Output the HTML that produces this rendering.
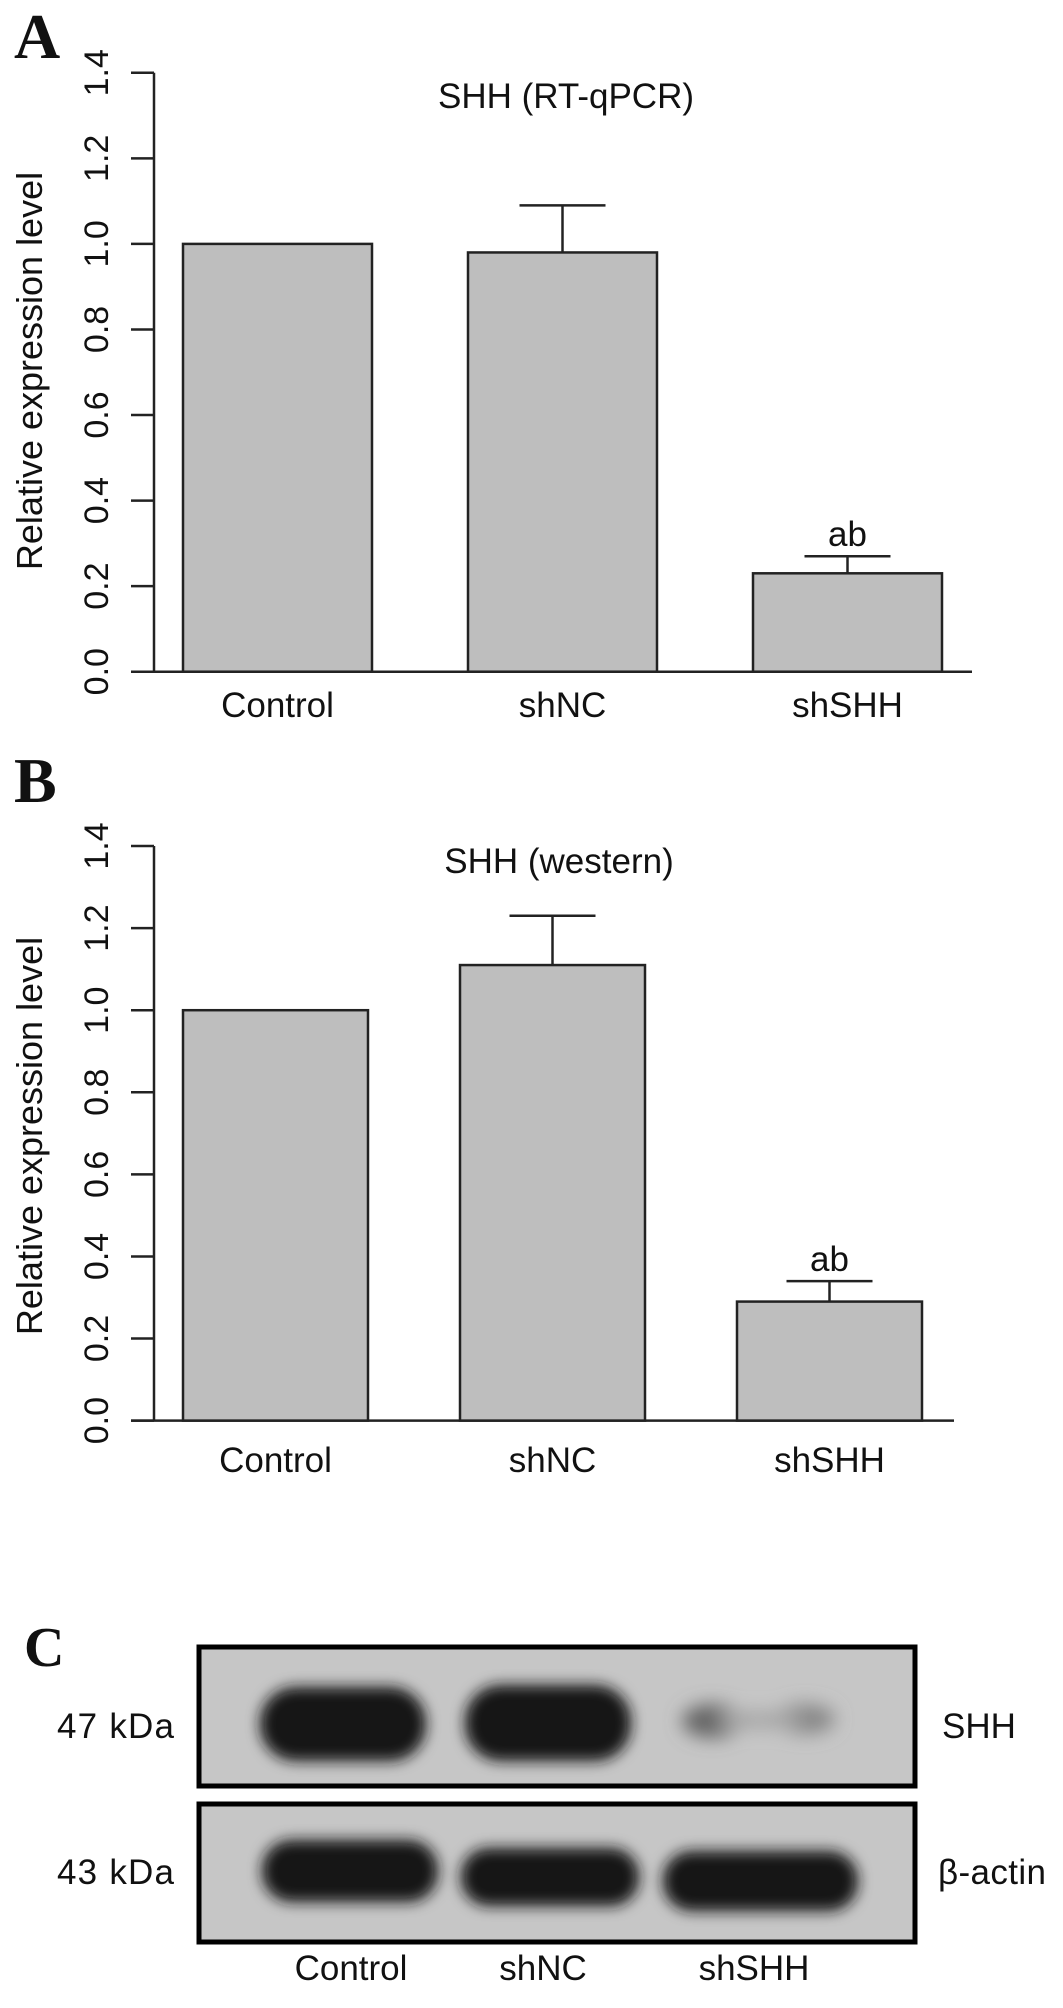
<!DOCTYPE html>
<html><head><meta charset="utf-8"><style>
html,body{margin:0;padding:0;background:#fff;}
svg{display:block;}
text{font-family:"Liberation Sans",Arial,sans-serif;fill:#111;}
.pl{font-family:"Liberation Serif","Times New Roman",serif;font-weight:bold;}
</style></head><body>
<svg id="fig" width="1063" height="2008" viewBox="0 0 1063 2008" xmlns="http://www.w3.org/2000/svg">
<defs>
<filter id="blur" x="-30%" y="-60%" width="160%" height="220%"><feGaussianBlur stdDeviation="7"/></filter>
<filter id="blur2" x="-50%" y="-80%" width="200%" height="260%"><feGaussianBlur stdDeviation="9"/></filter>
</defs>
<text class="pl" x="14" y="58" font-size="64">A</text>
<text class="pl" x="14" y="802" font-size="64">B</text>
<text class="pl" x="24" y="1666" font-size="56">C</text>
<g id="chartA"></g>
<g id="chartB"></g>
<g id="blot">
  <rect x="199" y="1647" width="716" height="139" fill="#c6c6c6" stroke="#000" stroke-width="5"/>
  <rect x="199" y="1804" width="716" height="138" fill="#c6c6c6" stroke="#000" stroke-width="5"/>
  <g filter="url(#blur)">
    <rect x="260" y="1687" width="166" height="74" rx="36" fill="#151515"/>
    <rect x="465" y="1685" width="166" height="76" rx="36" fill="#151515"/>
    <rect x="262" y="1840" width="176" height="62" rx="30" fill="#151515"/>
    <rect x="461" y="1848" width="178" height="58" rx="28" fill="#151515"/>
    <rect x="663" y="1851" width="195" height="60" rx="29" fill="#151515"/>
  </g>
  <g filter="url(#blur2)">
    <ellipse cx="712" cy="1721" rx="30" ry="17" fill="#666"/>
    <ellipse cx="805" cy="1719" rx="30" ry="15" fill="#888"/>
    <rect x="720" y="1712" width="80" height="16" fill="#a5a5a5"/>
  </g>
  <text x="57" y="1738" font-size="35" textLength="117">47 kDa</text>
  <text x="57" y="1884" font-size="35" textLength="117">43 kDa</text>
  <text x="942" y="1738" font-size="35">SHH</text>
  <text x="938" y="1884" font-size="35" textLength="108">β-actin</text>
  <text x="351" y="1980" font-size="35" text-anchor="middle">Control</text>
  <text x="543" y="1980" font-size="35" text-anchor="middle">shNC</text>
  <text x="754" y="1980" font-size="35" text-anchor="middle">shSHH</text>
</g>
</svg>
<script>
const categories = ["Control", "shNC", "shSHH"];
const valuesA = [1.00, 0.98, 0.23];
const errA = [0, 0.11, 0.04];
const sigA = ["", "", "ab"];
const valuesB = [1.00, 1.11, 0.29];
const errB = [0, 0.12, 0.05];
const sigB = ["", "", "ab"];
const ticks = [0, 0.2, 0.4, 0.6, 0.8, 1.0, 1.2, 1.4];
const tickLabels = ["0.0", "0.2", "0.4", "0.6", "0.8", "1.0", "1.2", "1.4"];

const NS = "http://www.w3.org/2000/svg";
function mk(tag, attrs, parent) {
  const e = document.createElementNS(NS, tag);
  for (const k in attrs) e.setAttribute(k, attrs[k]);
  parent.appendChild(e);
  return e;
}
function drawChart(g, cfg, values, errs, sigs, title) {
  const y = v => cfg.y0 - v * cfg.ppu;
  const xl = i => cfg.x0 + i * cfg.step;
  const xc = i => xl(i) + cfg.bw / 2;
  const ax = mk("line", {x1: 154, x2: 154, y1: y(1.4), y2: y(0), stroke: "#222", "stroke-width": 2.5}, g);
  
  
  ticks.forEach((t, i) => {
    const tk = mk("line", {x1: 131, x2: 154, y1: y(t), y2: y(t), stroke: "#222", "stroke-width": 2.5}, g);
    
    
    const tl = mk("text", {x: 0, y: 0, "font-size": 34, "text-anchor": "middle", transform: `translate(108 ${y(t)}) rotate(-90)`}, g);
    tl.textContent = tickLabels[i];
    
    
  });
  const xa = mk("line", {x1: 131, x2: cfg.xEnd, y1: y(0), y2: y(0), stroke: "#222", "stroke-width": 2.5}, g);
  
  
  const yt = mk("text", {x: 0, y: 0, "font-size": 36, "text-anchor": "middle", transform: `translate(42 ${cfg.ytc}) rotate(-90)`}, g);
  yt.textContent = "Relative expression level";
  
  
  const tt = mk("text", {x: cfg.tx, y: cfg.ty, "font-size": 35, "text-anchor": "middle"}, g);
  tt.textContent = title;
  
  
  values.forEach((v, i) => {
    const b = mk("rect", {x: xl(i), y: y(v), width: cfg.bw, height: y(0) - y(v), fill: "#bebebe", stroke: "#222", "stroke-width": 2.5}, g);
    
    
    if (errs[i] > 0) {
      const ev = mk("line", {x1: xc(i), x2: xc(i), y1: y(v), y2: y(v + errs[i]), stroke: "#222", "stroke-width": 2.5}, g);
      
      
      const ec = mk("line", {x1: xc(i) - 43, x2: xc(i) + 43, y1: y(v + errs[i]), y2: y(v + errs[i]), stroke: "#222", "stroke-width": 2.5}, g);
      
      
    }
    if (sigs[i]) {
      const s = mk("text", {x: xc(i), y: y(v + errs[i]) - 10, "font-size": 35, "text-anchor": "middle"}, g);
      s.textContent = sigs[i];
      
      
    }
    const xlab = mk("text", {x: xc(i), y: cfg.xly, "font-size": 35, "text-anchor": "middle"}, g);
    xlab.textContent = categories[i];
    
    
  });
}
drawChart(document.getElementById("chartA"),
  {y0: 671.7, ppu: 427.8, x0: 183, step: 285, bw: 189, xEnd: 972, tx: 566, ty: 108, xly: 717, ytc: 371},
  valuesA, errA, sigA, "SHH (RT-qPCR)");
drawChart(document.getElementById("chartB"),
  {y0: 1420.6, ppu: 410.4, x0: 183, step: 277, bw: 185, xEnd: 954, tx: 559, ty: 873, xly: 1472, ytc: 1136},
  valuesB, errB, sigB, "SHH (western)");
</script>
</body></html>
